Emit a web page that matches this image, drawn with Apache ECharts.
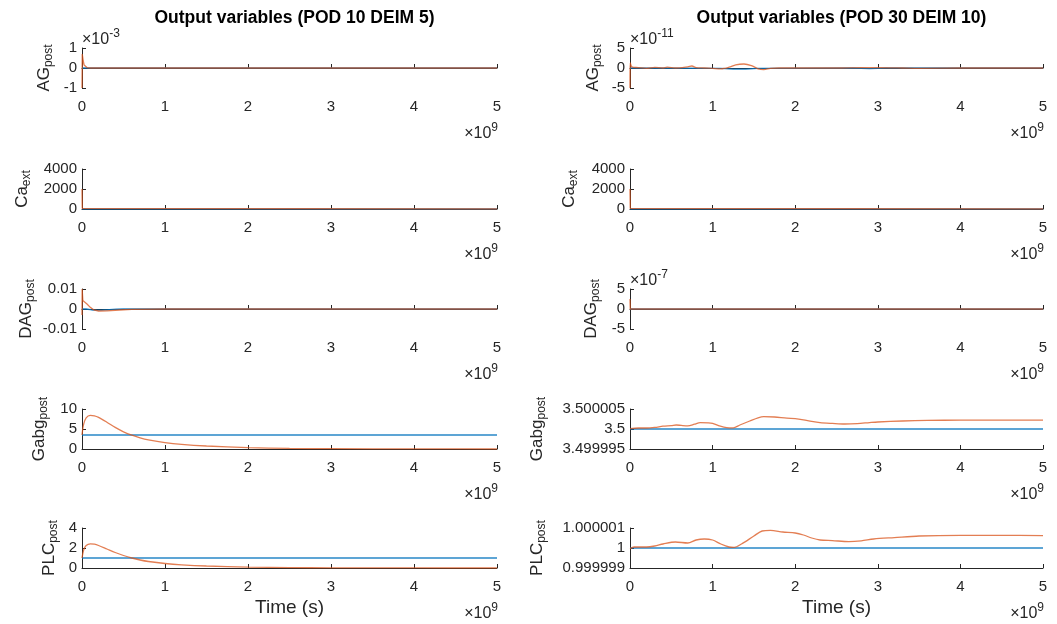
<!DOCTYPE html>
<html>
<head>
<meta charset="utf-8">
<script src="https://cdn.jsdelivr.net/npm/echarts@6/dist/echarts.min.js"></script>
<style>html,body{margin:0;padding:0;background:#fff}#c{width:1057px;height:624px}</style>
</head>
<body>
<div id="c"></div>
<script>
// ---------- DATA (time in units of 1e9 s; exponent axes stored in displayed units) ----------
const titles = ['Output variables (POD 10 DEIM 5)', 'Output variables (POD 30 DEIM 10)'];
const xTicks = [0, 1, 2, 3, 4, 5];

// Left column: POD 10 DEIM 5
const agL_blue_t = [0, 5];
const agL_blue = [0, 0];                     // x1e-3
const agL_red_t = [0, 0.003, 0.008, 0.015, 0.025, 0.04, 0.06, 0.1, 0.5, 1, 2, 3, 4, 5];
const agL_red = [-1, 0.7, 0.6, 0.35, 0.15, 0.05, 0.02, 0, 0, 0, 0, 0, 0, 0];
const agL_ticks = [-1, 0, 1];

const caL_blue_t = [0, 5];
const caL_blue = [0, 0];
const caL_red_t = [0, 0.003, 0.01, 5];
const caL_red = [2000, 60, 0, 0];
const caL_ticks = [0, 2000, 4000];

const dagL_blue_t = [0, 0.05, 0.15, 0.3, 0.5, 5];
const dagL_blue = [0, 0, -0.0006, -0.0004, 0, 0];
const dagL_red_t = [0, 0.002, 0.01, 0.03, 0.06, 0.1, 0.14, 0.2, 0.3, 0.45, 0.6, 1, 5];
const dagL_red = [-0.003, 0.01, 0.0042, 0.004, 0.0025, 0.0008, -0.0004, -0.001, -0.0009, -0.0005, -0.0002, 0, 0];
const dagL_ticks = [-0.01, 0, 0.01];

const gabgL_blue_t = [0, 5];
const gabgL_blue = [3.5, 3.5];
const gabgL_red_t = [0, 0.02, 0.05, 0.1, 0.15, 0.2, 0.3, 0.4, 0.5, 0.6, 0.7, 0.8, 1.0, 1.2, 1.5, 2.0, 2.5, 3, 4, 5];
const gabgL_red = [3.5, 6.2, 7.8, 8.4, 8.3, 7.9, 6.7, 5.4, 4.3, 3.45, 2.8, 2.3, 1.6, 1.15, 0.75, 0.35, 0.15, 0.07, 0.02, 0];
const gabgL_ticks = [0, 5, 10];

const plcL_blue_t = [0, 5];
const plcL_blue = [1, 1];
const plcL_red_t = [0, 0.02, 0.05, 0.1, 0.15, 0.2, 0.3, 0.4, 0.5, 0.6, 0.7, 0.8, 1.0, 1.2, 1.5, 2.0, 2.5, 3, 4, 5];
const plcL_red = [1.0, 1.8, 2.25, 2.42, 2.38, 2.25, 1.9, 1.55, 1.25, 1.0, 0.8, 0.65, 0.45, 0.32, 0.2, 0.09, 0.04, 0.02, 0.005, 0];
const plcL_ticks = [0, 2, 4];

// Right column: POD 30 DEIM 10
const agR_blue_t = [0, 0.02, 1.1, 1.25, 1.4, 1.55, 2.7, 2.9, 3.1, 5];
const agR_blue = [0, 0, -0.1, -0.3, -0.3, -0.1, 0, -0.15, 0, 0];   // x1e-11
const agR_red_t = [0, 0.003, 0.015, 0.03, 0.1, 0.2, 0.3, 0.4, 0.45, 0.55, 0.7, 0.75, 0.8, 0.9, 1.0, 1.1, 1.2, 1.28, 1.38, 1.47, 1.55, 1.62, 1.7, 1.8, 2.0, 2.5, 2.8, 3.0, 3.3, 3.5, 4, 5];
const agR_red = [-5, 1.3, 0.5, 0.2, 0.1, -0.1, 0.15, 0, 0.2, 0, 0.3, 0.5, 0.1, 0, -0.1, -0.2, 0.2, 0.8, 1.0, 0.6, -0.2, -0.4, -0.1, 0, 0, 0, 0.1, 0.1, 0, -0.1, 0, 0];
const agR_ticks = [-5, 0, 5];

const caR_blue_t = [0, 5];
const caR_blue = [0, 0];
const caR_red_t = [0, 0.003, 0.01, 5];
const caR_red = [2000, 60, 0, 0];
const caR_ticks = [0, 2000, 4000];

const dagR_blue_t = [0, 5];
const dagR_blue = [0, 0];                    // x1e-7
const dagR_red_t = [0, 0.003, 0.01, 5];
const dagR_red = [2.5, 0, 0, 0];
const dagR_ticks = [-5, 0, 5];

const gabgR_blue_t = [0, 5];
const gabgR_blue = [3.5, 3.5];
const gabgR_red_t = [0, 0.1, 0.2, 0.3, 0.4, 0.5, 0.56, 0.62, 0.7, 0.78, 0.85, 0.95, 1.0, 1.08, 1.17, 1.25, 1.33, 1.45, 1.55, 1.62, 1.75, 1.9, 2.0, 2.1, 2.2, 2.3, 2.45, 2.6, 2.75, 2.9, 3.0, 3.3, 3.6, 4.0, 4.5, 5];
const gabgR_red = [3.5000001, 3.50000025, 3.50000025, 3.5000004, 3.5000007, 3.50000085, 3.500001, 3.5000009, 3.5000008, 3.5000012, 3.5000016, 3.50000155, 3.5000014, 3.5000008, 3.50000035, 3.5000003, 3.500001, 3.500002, 3.5000028, 3.5000031, 3.500003, 3.5000027, 3.5000026, 3.5000023, 3.5000019, 3.5000016, 3.5000014, 3.50000125, 3.50000135, 3.5000016, 3.50000175, 3.500002, 3.50000215, 3.5000022, 3.5000022, 3.5000022];
const gabgR_ticks = [3.499995, 3.5, 3.500005];

const plcR_blue_t = [0, 5];
const plcR_blue = [1, 1];
const plcR_red_t = [0, 0.05, 0.2, 0.3, 0.4, 0.55, 0.7, 0.8, 0.9, 1.0, 1.1, 1.2, 1.26, 1.35, 1.5, 1.6, 1.7, 1.85, 2.0, 2.1, 2.2, 2.3, 2.45, 2.65, 2.8, 2.95, 3.2, 3.5, 4, 4.5, 5];
const plcR_red = [0.99999997, 1.00000005, 1.00000005, 1.0000001, 1.0000002, 1.0000003, 1.00000025, 1.0000004, 1.00000045, 1.0000004, 1.0000002, 1.00000005, 1.00000003, 1.0000002, 1.0000006, 1.00000085, 1.00000088, 1.0000008, 1.00000075, 1.00000065, 1.0000005, 1.0000004, 1.00000037, 1.00000032, 1.00000036, 1.00000045, 1.00000052, 1.0000006, 1.00000063, 1.00000063, 1.00000062];
const plcR_ticks = [0.999999, 1, 1.000001];

// ---------- LAYOUT / STYLE ----------
const FONT = '"Liberation Sans", Arial, Helvetica, sans-serif';
const TXT = '#262626';
const BLUE = '#0072BD';
const RED = '#D95319';
const colLeft = [82, 630];
const colWidth = [415, 413];
const rowTop = [48, 169, 289, 409, 528];
const H = 40;

const zip = (t, v) => t.map((x, i) => [x, v[i]]);

const panels = [
  {c:0, r:0, nm:'AG', sub:'post', ticks:agL_ticks, exp:'-3', gap:27, lines:[[agL_blue_t, agL_blue, false],[agL_red_t, agL_red, false]]},
  {c:0, r:1, nm:'Ca', sub:'ext', ticks:caL_ticks, gap:49, lines:[[caL_blue_t, caL_blue, false],[caL_red_t, caL_red, false]]},
  {c:0, r:2, nm:'DAG', sub:'post', ticks:dagL_ticks, gap:45, lines:[[dagL_blue_t, dagL_blue, true],[dagL_red_t, dagL_red, false]]},
  {c:0, r:3, nm:'Gabg', sub:'post', ticks:gabgL_ticks, gap:32, lines:[[gabgL_blue_t, gabgL_blue, false],[gabgL_red_t, gabgL_red, true]]},
  {c:0, r:4, nm:'PLC', sub:'post', ticks:plcL_ticks, gap:22, lines:[[plcL_blue_t, plcL_blue, false],[plcL_red_t, plcL_red, true]]},
  {c:1, r:0, nm:'AG', sub:'post', ticks:agR_ticks, exp:'-11', gap:26, lines:[[agR_blue_t, agR_blue, false],[agR_red_t, agR_red, true]]},
  {c:1, r:1, nm:'Ca', sub:'ext', ticks:caR_ticks, gap:50, lines:[[caR_blue_t, caR_blue, false],[caR_red_t, caR_red, false]]},
  {c:1, r:2, nm:'DAG', sub:'post', ticks:dagR_ticks, exp:'-7', gap:28, lines:[[dagR_blue_t, dagR_blue, false],[dagR_red_t, dagR_red, false]]},
  {c:1, r:3, nm:'Gabg', sub:'post', ticks:gabgR_ticks, gap:82, lines:[[gabgR_blue_t, gabgR_blue, false],[gabgR_red_t, gabgR_red, true]]},
  {c:1, r:4, nm:'PLC', sub:'post', ticks:plcR_ticks, gap:82, lines:[[plcR_blue_t, plcR_blue, false],[plcR_red_t, plcR_red, true]]},
];

const fmt = v => String(parseFloat(Number(v).toPrecision(12)));
const expRich = {
  a: {fontSize: 16, lineHeight: 20, fontFamily: FONT, fill: TXT, color: TXT, verticalAlign: 'bottom'},
  b: {fontSize: 12, lineHeight: 12, fontFamily: FONT, fill: TXT, color: TXT, verticalAlign: 'top'}
};

const grid = [], xAxis = [], yAxis = [], series = [], graphic = [];
panels.forEach((p, i) => {
  const left = colLeft[p.c], top = rowTop[p.r], w = colWidth[p.c];
  grid.push({left, top, width: w, height: H, outerBoundsMode: 'none', containLabel: false});
  const last = p.r === 4;
  xAxis.push({
    gridIndex: i, type: 'value', min: xTicks[0], max: xTicks[xTicks.length - 1], interval: 1,
    axisLine: {lineStyle: {color: TXT, width: 1}},
    axisTick: {inside: true, length: 4, lineStyle: {color: TXT}},
    axisLabel: {color: TXT, fontSize: 15, fontFamily: FONT, margin: 11, formatter: fmt},
    splitLine: {show: false},
    name: last ? 'Time (s)' : '', nameLocation: 'middle', nameGap: 30,
    nameTextStyle: {color: TXT, fontSize: 19, fontFamily: FONT}
  });
  yAxis.push({
    gridIndex: i, type: 'value', min: p.ticks[0], max: p.ticks[p.ticks.length - 1],
    axisLine: {show: true, lineStyle: {color: TXT, width: 1}},
    axisTick: {show: true, inside: true, length: 4, lineStyle: {color: TXT}, customValues: p.ticks},
    axisLabel: {color: TXT, fontSize: 15, fontFamily: FONT, margin: 5, customValues: p.ticks, formatter: fmt},
    splitLine: {show: false},
    name: '{a|' + p.nm + '}{s|' + p.sub + '}', nameLocation: 'middle', nameRotate: 90, nameGap: p.gap,
    nameTextStyle: {color: TXT, fontFamily: FONT, rich: {
      a: {fontSize: 17, lineHeight: 22, color: TXT, fontFamily: FONT},
      s: {fontSize: 12, lineHeight: 12, color: TXT, fontFamily: FONT, verticalAlign: 'bottom'}
    }}
  });
  p.lines.forEach((ln, k) => {
    series.push({
      type: 'line', xAxisIndex: i, yAxisIndex: i, data: zip(ln[0], ln[1]),
      showSymbol: false, symbol: 'none', smooth: ln[2] ? 0.3 : false,
      lineStyle: {color: k === 0 ? BLUE : RED, width: 1.3, opacity: k === 0 ? 0.85 : 0.75},
      itemStyle: {color: k === 0 ? BLUE : RED},
      animation: false, silent: true, z: 2 + k
    });
  });
  graphic.push({
    type: 'text', x: left + w + 1, y: top + H + 44, silent: true,
    style: {text: '{a|×10}{b|9}', align: 'right', verticalAlign: 'middle', fill: TXT, rich: expRich}
  });
  if (p.exp) {
    graphic.push({
      type: 'text', x: left, y: top - 10, silent: true,
      style: {text: '{a|×10}{b|' + p.exp + '}', align: 'left', verticalAlign: 'middle', fill: TXT, rich: expRich}
    });
  }
});

const title = titles.map((t, c) => ({
  text: t, left: colLeft[c] + colWidth[c] / 2, top: 4, textAlign: 'center',
  textStyle: {fontSize: 17.5, fontWeight: 'bold', color: '#000', fontFamily: FONT}
}));

const chart = echarts.init(document.getElementById('c'), null, {renderer: 'canvas'});
chart.setOption({
  backgroundColor: '#fff', animation: false,
  title, grid, xAxis, yAxis, series, graphic
});
</script>
</body>
</html>
